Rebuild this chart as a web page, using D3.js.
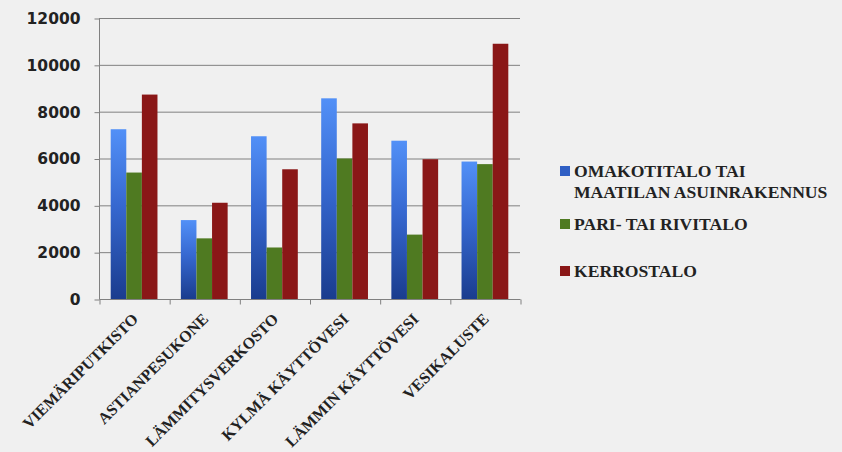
<!DOCTYPE html>
<html>
  <head>
    <meta charset="utf-8">
    <script src="https://d3js.org/d3.v7.min.js"></script>
    <style>
      body { margin: 0; background: #f0f0f0; }
    </style>
  </head>
  <body>
    <div id="chart"></div>
    <script>
      const categories = ["VIEMÄRIPUTKISTO", "ASTIANPESUKONE", "LÄMMITYSVERKOSTO", "KYLMÄ KÄYTTÖVESI", "LÄMMIN KÄYTTÖVESI", "VESIKALUSTE"];
      const seriesNames = [["OMAKOTITALO TAI", "MAATILAN ASUINRAKENNUS"], ["PARI- TAI RIVITALO"], ["KERROSTALO"]];
      const omakotitalo = [7250, 3370, 6950, 8570, 6760, 5870];
      const rivitalo = [5400, 2590, 2200, 6000, 2750, 5760];
      const kerrostalo = [8730, 4110, 5540, 7500, 5970, 10900];
      const yTicks = [0, 2000, 4000, 6000, 8000, 10000, 12000];

      const series = [omakotitalo, rivitalo, kerrostalo];
      const fills = ["url(#blueGrad)", "#4f7a21", "#8a1717"];
      const legendSwatch = ["#2f5fc4", "#4f7a21", "#8a1717"];

      const serif = "'Liberation Serif', 'DejaVu Serif', serif";

      const width = 842, height = 452;
      const plotLeft = 99, plotRight = 520, plotTop = 18, plotBottom = 299;

      const svg = d3.select("#chart").append("svg")
        .attr("width", width).attr("height", height);

      svg.append("rect").attr("width", width).attr("height", height).attr("fill", "#f0f0f0");

      const defs = svg.append("defs");
      const grad = defs.append("linearGradient").attr("id", "blueGrad")
        .attr("x1", 0).attr("y1", 0).attr("x2", 0).attr("y2", 1);
      grad.append("stop").attr("offset", "0%").attr("stop-color", "#5290f7");
      grad.append("stop").attr("offset", "45%").attr("stop-color", "#3668d0");
      grad.append("stop").attr("offset", "100%").attr("stop-color", "#1a3c8e");

      const x = d3.scaleBand().domain(categories).range([plotLeft, plotRight])
        .paddingInner(1 / 3).paddingOuter(1 / 6);
      const xs = d3.scaleBand().domain(d3.range(series.length)).range([0, x.bandwidth()]);
      const xTicks = d3.scaleLinear().domain([0, categories.length]).range([plotLeft, plotRight]);

      const y = d3.scaleLinear().domain([0, 12000]).range([plotBottom, plotTop]);

      // gridlines
      svg.append("g").selectAll("line").data(yTicks.slice(1)).join("line")
        .attr("x1", plotLeft).attr("x2", plotRight)
        .attr("y1", d => y(d) + 0.5).attr("y2", d => y(d) + 0.5)
        .attr("stroke", "#808080").attr("stroke-width", 1);

      // y axis
      const yAxis = svg.append("g")
        .attr("transform", `translate(${plotLeft + 0.5},0.5)`)
        .call(d3.axisLeft(y).tickValues(yTicks).tickSize(5).tickPadding(14).tickFormat(d3.format("d")));
      yAxis.selectAll("path, line").attr("stroke", "#808080");
      yAxis.select(".domain").attr("d", `M0,${plotTop}V${plotBottom}`);
      yAxis.selectAll("text")
        .style("font-family", "'DejaVu Sans', sans-serif")
        .style("font-weight", "bold")
        .style("font-size", "15.5px")
        .attr("fill", "#222");

      // bars
      series.forEach((vals, si) => {
        svg.append("g").selectAll("rect").data(vals).join("rect")
          .attr("x", (d, i) => x(categories[i]) + xs(si))
          .attr("width", xs.bandwidth())
          .attr("y", d => y(d))
          .attr("height", d => y(0) - y(d))
          .attr("fill", fills[si]);
      });

      // x axis
      const xAxis = svg.append("g")
        .attr("transform", `translate(0.5,${plotBottom + 0.5})`)
        .call(d3.axisBottom(xTicks).tickValues(d3.range(categories.length + 1)).tickSize(5).tickFormat(""));
      xAxis.selectAll("path, line").attr("stroke", "#808080");
      xAxis.select(".domain").attr("d", `M${plotLeft},0H${plotRight}`);

      // category labels
      svg.append("g").selectAll("text").data(categories).join("text")
        .style("font-family", serif)
        .style("font-weight", "bold")
        .style("font-size", "16px")
        .attr("fill", "#222")
        .attr("text-anchor", "end")
        .attr("transform", d => `translate(${x(d) + x.bandwidth() / 2 + 5},${plotBottom + 21}) rotate(-45)`)
        .text(d => d);

      // legend
      const legendY = [171, 224, 271];
      const legend = svg.append("g");
      seriesNames.forEach((lines, i) => {
        legend.append("rect")
          .attr("x", 560).attr("y", legendY[i] - 5)
          .attr("width", 10).attr("height", 10)
          .attr("fill", legendSwatch[i]);
        const t = legend.append("text")
          .attr("x", 574).attr("y", legendY[i])
          .style("font-family", serif)
          .style("font-weight", "bold")
          .style("font-size", "17.6px")
          .attr("fill", "#222");
        lines.forEach((ln, j) => {
          t.append("tspan").attr("x", 574).attr("dy", j === 0 ? "0.35em" : "21px").text(ln);
        });
      });
    </script>
  </body>
</html>
